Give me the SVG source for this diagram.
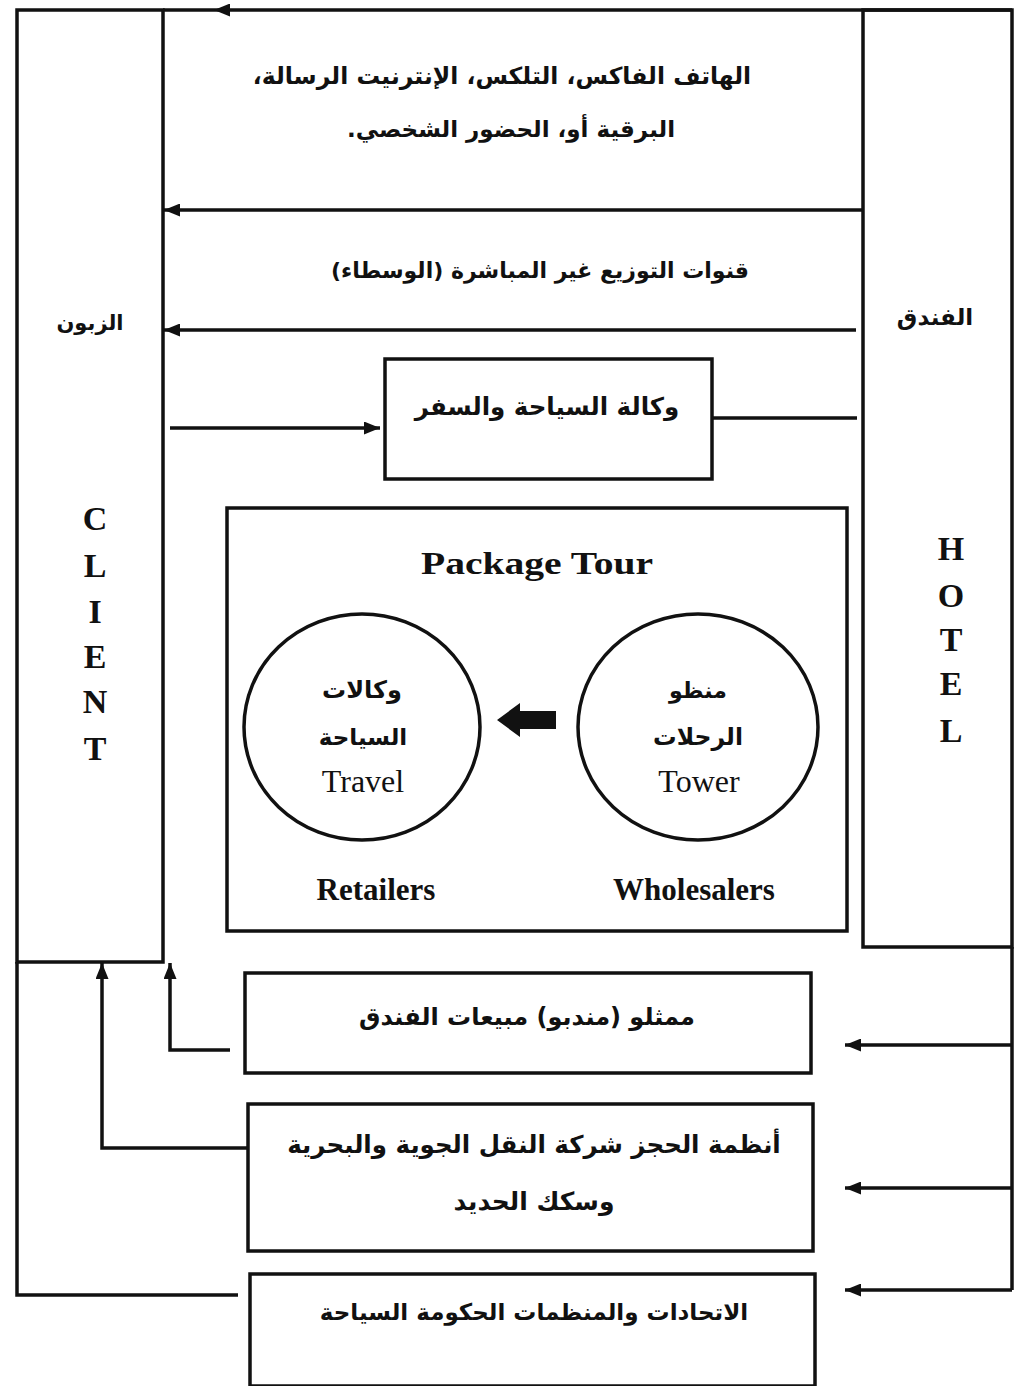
<svg xmlns="http://www.w3.org/2000/svg" width="1017" height="1386" viewBox="0 0 1017 1386">
  <style>
    .box { fill: none; stroke: #111; stroke-width: 3.5; }
    .wire { fill: none; stroke: #111; stroke-width: 3.5; }
    .ar { font-family: "DejaVu Sans", "Noto Sans", sans-serif; font-weight: bold; fill: #111; text-anchor: middle; }
    .en { font-family: "Liberation Serif", "Times New Roman", serif; fill: #111; text-anchor: middle; }
    .enb { font-weight: bold; }
    .col { font-family: "Liberation Serif", "Times New Roman", serif; font-weight: bold; font-size: 34px; fill: #111; text-anchor: middle; }
  </style>
  <defs>
    <marker id="head" markerUnits="userSpaceOnUse" markerWidth="16" markerHeight="13" refX="16" refY="6.5" orient="auto">
      <path d="M0,0 L16,6.5 L0,13 Z" fill="#111"/>
    </marker>
    <marker id="midhead" markerUnits="userSpaceOnUse" markerWidth="16" markerHeight="13" refX="8" refY="6.5" orient="auto">
      <path d="M0,0 L16,6.5 L0,13 Z" fill="#111"/>
    </marker>
  </defs>
  <rect width="1017" height="1386" fill="#fff"/>

  <!-- client column -->
  <g id="client">
    <rect class="box" x="17" y="10" width="146" height="952"/>
    <text class="ar" x="90" y="330" font-size="21" direction="rtl">الزبون</text>
    <text class="col" x="95" y="530">C</text>
    <text class="col" x="95" y="577">L</text>
    <text class="col" x="95" y="623">I</text>
    <text class="col" x="95" y="668">E</text>
    <text class="col" x="95" y="713">N</text>
    <text class="col" x="95" y="760">T</text>
  </g>

  <!-- hotel column -->
  <g id="hotel">
    <rect class="box" x="863" y="10" width="149" height="937"/>
    <text class="ar" x="935" y="325" font-size="23" direction="rtl">الفندق</text>
    <text class="col" x="951" y="560">H</text>
    <text class="col" x="951" y="607">O</text>
    <text class="col" x="951" y="651">T</text>
    <text class="col" x="951" y="695">E</text>
    <text class="col" x="951" y="742">L</text>
  </g>

  <!-- direct channels -->
  <g id="direct">
    <text class="ar" x="502" y="84" font-size="23.5" direction="rtl">الهاتف الفاكس، التلكس، الإنترنيت الرسالة،</text>
    <text class="ar" x="511" y="137" font-size="23" direction="rtl">البرقية أو، الحضور الشخصي.</text>
  </g>

  <!-- indirect channels -->
  <g id="indirect">
    <text class="ar" x="540" y="278" font-size="22" direction="rtl">قنوات التوزيع غير المباشرة (الوسطاء)</text>
  </g>

  <!-- travel agency -->
  <g id="agency">
    <rect class="box" x="385" y="359" width="327" height="120"/>
    <text class="ar" x="547" y="415" font-size="24.5" direction="rtl">وكالة السياحة والسفر</text>
  </g>

  <!-- package tour -->
  <g id="package">
    <rect class="box" x="227" y="508" width="620" height="423"/>
    <text class="en enb" x="537" y="574" font-size="32" textLength="232" lengthAdjust="spacingAndGlyphs">Package Tour</text>
    <text class="en enb" x="376" y="900" font-size="31">Retailers</text>
    <text class="en enb" x="694" y="900" font-size="31">Wholesalers</text>
  </g>

  <g id="retailers">
    <ellipse class="box" cx="362" cy="727" rx="118" ry="113"/>
    <text class="ar" x="362" y="698" font-size="24" direction="rtl">وكالات</text>
    <text class="ar" x="363" y="745" font-size="23" direction="rtl">السياحة</text>
    <text class="en" x="363" y="792" font-size="32">Travel</text>
  </g>

  <g id="wholesalers">
    <ellipse class="box" cx="698" cy="727" rx="120" ry="113"/>
    <text class="ar" x="698" y="698" font-size="22" direction="rtl">منظو</text>
    <text class="ar" x="698" y="745" font-size="23.5" direction="rtl">الرحلات</text>
    <text class="en" x="699" y="792" font-size="32">Tower</text>
  </g>

  <!-- lower boxes -->
  <g id="sales-reps">
    <rect class="box" x="245" y="973" width="566" height="100"/>
    <text class="ar" x="527" y="1025" font-size="24" direction="rtl">ممثلو (مندبو) مبيعات الفندق</text>
  </g>

  <g id="reservation">
    <rect class="box" x="248" y="1104" width="565" height="147"/>
    <text class="ar" x="534" y="1153" font-size="24.5" direction="rtl">أنظمة الحجز شركة النقل الجوية والبحرية</text>
    <text class="ar" x="534" y="1210" font-size="25" direction="rtl">وسكك الحديد</text>
  </g>

  <g id="associations">
    <rect class="box" x="250" y="1274" width="565" height="112"/>
    <text class="ar" x="534" y="1320" font-size="23" direction="rtl">الاتحادات والمنظمات الحكومة السياحة</text>
  </g>

  <!-- connectors -->
  <g id="connectors">
    <path class="wire" d="M1012,10 L222,10 L163,10" marker-mid="url(#midhead)"/>
    <path class="wire" d="M863,210 L164,210" marker-end="url(#head)"/>
    <path class="wire" d="M856,330 L164,330" marker-end="url(#head)"/>
    <path class="wire" d="M712,418 L857,418"/>
    <path class="wire" d="M170,428 L380,428" marker-end="url(#head)"/>
    <polygon points="497,720 520,703 520,711 556,711 556,729 520,729 520,737" fill="#111"/>
    <path class="wire" d="M230,1050 L170,1050 L170,963" marker-end="url(#head)"/>
    <path class="wire" d="M247,1148 L102,1148 L102,963" marker-end="url(#head)"/>
    <path class="wire" d="M238,1295 L17,1295 L17,962"/>
    <path class="wire" d="M1012,947 L1012,1290"/>
    <path class="wire" d="M1012,1045 L845,1045" marker-end="url(#head)"/>
    <path class="wire" d="M1012,1188 L845,1188" marker-end="url(#head)"/>
    <path class="wire" d="M1012,1290 L845,1290" marker-end="url(#head)"/>
  </g>
</svg>
